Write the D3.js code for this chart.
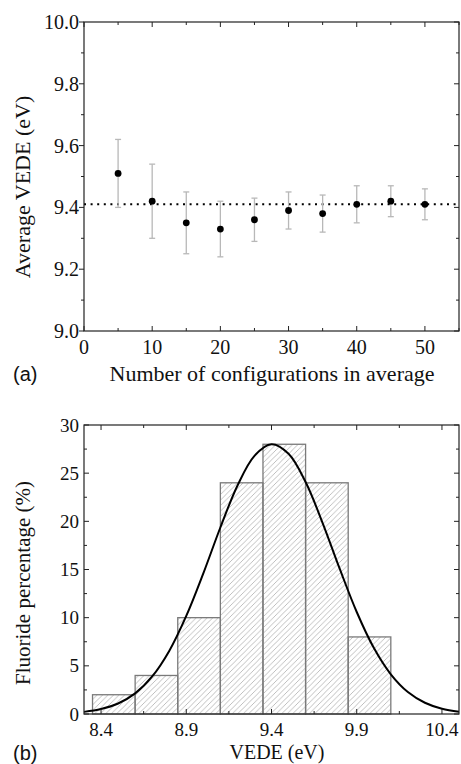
<!DOCTYPE html>
<html><head><meta charset="utf-8">
<script src="https://cdn.jsdelivr.net/npm/d3@7"></script>
<style>
html,body{margin:0;padding:0;background:#fff;}
svg{display:block;}
text{fill:#111;}
</style></head>
<body>
<svg id="chart" width="461" height="764"></svg>
<script>
// ---------- Panel (a) data ----------
const configCounts = [5, 10, 15, 20, 25, 30, 35, 40, 45, 50];
const avgVEDE      = [9.51, 9.42, 9.35, 9.33, 9.36, 9.39, 9.38, 9.41, 9.42, 9.41];
const avgError     = [0.11, 0.12, 0.10, 0.09, 0.07, 0.06, 0.06, 0.06, 0.05, 0.05];
const convergedVEDE = 9.41;
const aXTicks = [0, 10, 20, 30, 40, 50];
const aYTicks = [9.0, 9.2, 9.4, 9.6, 9.8, 10.0];

// ---------- Panel (b) data ----------
const binStarts  = [8.35, 8.60, 8.85, 9.10, 9.35, 9.60, 9.85];
const binWidth   = 0.25;
const binPercent = [2, 4, 10, 24, 28, 24, 8];
const fitX = [8.3, 8.4, 8.5, 8.6, 8.7, 8.8, 8.9, 9.0, 9.1, 9.2, 9.3, 9.4, 9.5, 9.6, 9.7, 9.8, 9.9, 10.0, 10.1, 10.2, 10.3, 10.4, 10.5];
const fitY = [0.22, 0.51, 1.09, 2.14, 3.90, 6.55, 10.18, 14.60, 19.36, 23.70, 26.80, 28.0, 27.01, 24.08, 19.82, 15.08, 10.59, 6.87, 4.12, 2.28, 1.17, 0.55, 0.24];
const bXTicks = [8.4, 8.9, 9.4, 9.9, 10.4];
const bYTicks = [0, 5, 10, 15, 20, 25, 30];

const svg = d3.select("#chart");
const serif = "'Liberation Serif','Times New Roman',serif";
const sans = "'Liberation Sans',Arial,sans-serif";

const defs = svg.append("defs");
const pat = defs.append("pattern").attr("id","hatch").attr("patternUnits","userSpaceOnUse")
  .attr("width",5.5).attr("height",5.5);
pat.append("path").attr("d","M-1,6.5 L6.5,-1 M-1,1 L1,-1 M4.5,6.5 L6.5,4.5")
  .attr("stroke","#a8a8a8").attr("stroke-width",0.75).attr("fill","none");

function frameTicks(g, x, y, xt, yt, opts) {
  const [x0,x1] = x.range(), [y0,y1] = y.range(); // y0 bottom, y1 top
  const col = "#222";
  xt.forEach(t => {
    const major = opts.xMajor(t);
    const L = major ? 5 : 3;
    g.append("line").attr("x1",x(t)).attr("x2",x(t)).attr("y1",y0).attr("y2",y0-L).attr("stroke",col).attr("stroke-width",1);
    g.append("line").attr("x1",x(t)).attr("x2",x(t)).attr("y1",y1).attr("y2",y1+L).attr("stroke",col).attr("stroke-width",1);
  });
  yt.forEach(t => {
    const major = opts.yMajor(t);
    const L = major ? 5 : 3;
    const d = opts.leftOut ? -L : L;
    g.append("line").attr("x1",x0).attr("x2",x0+d).attr("y1",y(t)).attr("y2",y(t)).attr("stroke",col).attr("stroke-width",1);
    g.append("line").attr("x1",x1).attr("x2",x1-L).attr("y1",y(t)).attr("y2",y(t)).attr("stroke",col).attr("stroke-width",1);
  });
  g.append("rect").attr("x",x0).attr("y",y1).attr("width",x1-x0).attr("height",y0-y1)
    .attr("fill","none").attr("stroke",col).attr("stroke-width",1.2);
}

// ================= Panel (a) =================
{
  const x = d3.scaleLinear().domain([0,55]).range([84,459]);
  const y = d3.scaleLinear().domain([9.0,10.0]).range([331,22]);
  const g = svg.append("g");

  g.append("line").attr("x1",x(0)).attr("x2",x(55)).attr("y1",y(convergedVEDE)).attr("y2",y(convergedVEDE))
    .attr("stroke","#000").attr("stroke-width",2).attr("stroke-dasharray","2,4.6");

  const eb = g.append("g").attr("stroke","#b8b8b8").attr("stroke-width",1.3);
  configCounts.forEach((c,i) => {
    const lo = avgVEDE[i]-avgError[i], hi = avgVEDE[i]+avgError[i];
    eb.append("line").attr("x1",x(c)).attr("x2",x(c)).attr("y1",y(lo)).attr("y2",y(hi));
    eb.append("line").attr("x1",x(c)-3).attr("x2",x(c)+3).attr("y1",y(lo)).attr("y2",y(lo));
    eb.append("line").attr("x1",x(c)-3).attr("x2",x(c)+3).attr("y1",y(hi)).attr("y2",y(hi));
  });
  g.selectAll("circle.pt").data(configCounts).enter().append("circle")
    .attr("cx",d=>x(d)).attr("cy",(d,i)=>y(avgVEDE[i])).attr("r",3.4).attr("fill","#000");

  frameTicks(g, x, y, d3.range(0,56,5), d3.range(9.0,10.001,0.1).map(v=>+v.toFixed(1)), {
    xMajor: t => t%10===0, yMajor: t => Math.round(t*10)%2===0, leftOut: true
  });

  g.selectAll("text.xt").data(aXTicks).enter().append("text")
    .attr("x",d=>x(d)).attr("y",354).attr("text-anchor","middle")
    .attr("font-family",serif).attr("font-size",20).text(d=>d);
  g.selectAll("text.yt").data(aYTicks).enter().append("text")
    .attr("x",79).attr("y",d=>y(d)).attr("dy","0.35em").attr("text-anchor","end")
    .attr("font-family",serif).attr("font-size",20).text(d=>d.toFixed(1));

  g.append("text").attr("x",272).attr("y",381).attr("text-anchor","middle")
    .attr("font-family",serif).attr("font-size",22).text("Number of configurations in average");
  g.append("text").attr("transform","translate(30,187) rotate(-90)").attr("text-anchor","middle")
    .attr("font-family",serif).attr("font-size",22).text("Average VEDE (eV)");
  g.append("text").attr("x",13).attr("y",381).attr("font-family",sans).attr("font-size",20).text("(a)");
}

// ================= Panel (b) =================
{
  const x = d3.scaleLinear().domain([8.3,10.5]).range([84,459]);
  const y = d3.scaleLinear().domain([0,30]).range([714,425]);
  const g = svg.append("g");

  g.selectAll("rect.bar").data(binStarts).enter().append("rect")
    .attr("x",d=>x(d)).attr("width",d=>x(d+binWidth)-x(d))
    .attr("y",(d,i)=>y(binPercent[i])).attr("height",(d,i)=>y(0)-y(binPercent[i]))
    .attr("fill","url(#hatch)").attr("stroke","#7a7a7a").attr("stroke-width",1.3);

  const line = d3.line().x(d=>x(d[0])).y(d=>y(d[1])).curve(d3.curveCatmullRom.alpha(0.5));
  g.append("path").datum(fitX.map((v,i)=>[v,fitY[i]])).attr("d",line)
    .attr("fill","none").attr("stroke","#000").attr("stroke-width",2);

  frameTicks(g, x, y, d3.range(0,9).map(i=>+(8.4+i*0.25).toFixed(2)), d3.range(0,13).map(i=>i*2.5), {
    xMajor: t => Math.abs(((t-8.4)/0.5) - Math.round((t-8.4)/0.5))<1e-6,
    yMajor: t => t%5===0, leftOut: false
  });

  g.selectAll("text.xt").data(bXTicks).enter().append("text")
    .attr("x",d=>x(d)).attr("y",736).attr("text-anchor","middle")
    .attr("font-family",serif).attr("font-size",19).text(d=>d.toFixed(1));
  g.selectAll("text.yt").data(bYTicks).enter().append("text")
    .attr("x",79).attr("y",d=>y(d)).attr("dy","0.35em").attr("text-anchor","end")
    .attr("font-family",serif).attr("font-size",19).text(d=>d);

  g.append("text").attr("x",277).attr("y",759).attr("text-anchor","middle")
    .attr("font-family",serif).attr("font-size",20).text("VEDE (eV)");
  g.append("text").attr("transform","translate(30,583) rotate(-90)").attr("text-anchor","middle")
    .attr("font-family",serif).attr("font-size",21).text("Fluoride percentage (%)");
  g.append("text").attr("x",13).attr("y",760).attr("font-family",sans).attr("font-size",20).text("(b)");
}
</script>
</body></html>
